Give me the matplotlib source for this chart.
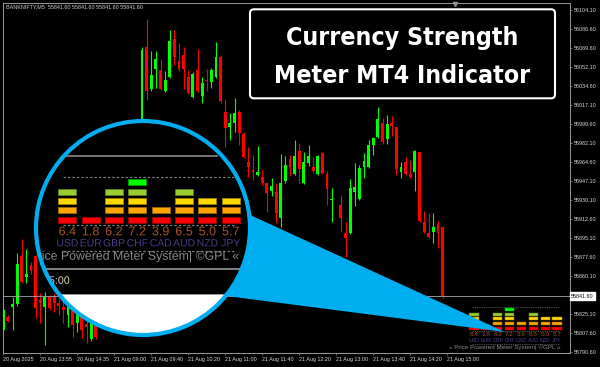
import numpy as np
import matplotlib.pyplot as plt
import matplotlib.colors as mcolors
from matplotlib import font_manager as fm
from matplotlib import patheffects as pe
from matplotlib.patches import Circle, Polygon, Rectangle, FancyBboxPatch

plt.rcParams['font.family'] = ['Liberation Sans', 'DejaVu Sans']

# ---------------- data ----------------
symbol_text = "BANKNIFTY,M5  55841.60 55841.60 55841.60 55841.60"
bid = 55841.60

# BANKNIFTY M5 candles (None = hidden under the magnifier / missing bar)
opens = [55810.5, 55822.5, 55831.6, 55834.4, 55878.4, 55859.2, 55870.2, 55878.4, 55838.1, 55831.6,
         55840.8, 55841.7, 55835.3, 55831.6, 55824.3, 55830.7, 55816.9, 55824.3, 55816.0, 55802.3,
         55818.8, None, None, None, None, None, None, None, None, None,
         56004.1, 56070.2, 56031.6, 56050.0, 56049.1, 56029.8, 56042.7, 56077.5, 56057.3, 56062.8,
         56042.7, 56024.3, 56049.1, 56025.2, 56039.9, 56038.1, 56042.7, 56061.0, 56010.5, 55996.8,
         56000.4, 56010.5, 55990.4, 55964.7, 55957.3, 55952.7, 55950.9, 55945.4, 55938.1, 55937.1,
         55913.3, 55947.2, 55967.4, 55953.7, 55974.8, 55945.4, 55963.7, 55960.1, 55953.7, 55972.9,
         55953.7, 55929.8, None, 55925.2, 55899.5, 55899.5, 55937.1, 55930.7, 55960.1, 55960.1,
         55980.3, 55987.6, 56000.4, 55985.8, 56000.4, 55996.8, 55955.5, 55964.7, 55953.7, 55955.5,
         55973.8, 55909.6, 55899.5, 55900.4, 55907.8, 55905.0]
highs = [55832.6, 55824.3, 55840.8, 55881.2, 55894.0, 55884.8, 55872.9, 55879.3, 55844.5, 55845.4,
         55842.6, 55844.5, 55839.9, 55838.1, 55836.2, 55835.3, 55828.9, 55828.9, 55819.7, 55824.3,
         55823.4, None, None, None, None, None, None, None, None, None,
         56070.2, 56095.9, 56066.5, 56066.5, 56059.2, 56048.2, 56085.8, 56085.8, 56073.8, 56070.2,
         56049.1, 56047.2, 56068.3, 56042.7, 56050.0, 56050.9, 56074.8, 56062.8, 56022.5, 56009.6,
         56023.4, 56012.4, 55992.2, 55978.4, 55971.1, 55979.4, 55957.3, 55946.3, 55950.0, 55945.4,
         55972.0, 55970.2, 55971.1, 55984.8, 55982.1, 55973.8, 55980.3, 55969.3, 55971.1, 55973.8,
         55956.4, 55940.8, None, 55934.4, 55909.6, 55949.1, 55963.8, 55961.9, 55972.9, 55984.8,
         55987.6, 56015.1, 56005.0, 56007.8, 56006.9, 55996.8, 55964.7, 55969.3, 55966.5, 55975.7,
         55973.8, 55919.7, 55917.9, 55917.9, 55910.5, 55906.0]
lows = [55808.7, 55817.9, 55810.5, 55832.6, 55853.6, 55853.6, 55861.9, 55821.5, 55816.9, 55796.8,
        55828.9, 55827.0, 55824.3, 55816.9, 55813.3, 55804.1, 55808.7, 55803.2, 55798.6, 55800.5,
        55802.3, None, None, None, None, None, None, None, None, None,
        56003.2, 56021.6, 56029.8, 56032.6, 56030.7, 56028.9, 56041.7, 56053.7, 56048.2, 56031.6,
        56027.1, 56023.4, 56028.9, 56018.8, 56029.8, 56032.6, 56041.7, 56018.8, 55978.4, 55984.8,
        55992.2, 55980.3, 55968.3, 55950.9, 55948.2, 55951.8, 55943.6, 55918.8, 55933.5, 55908.7,
        55905.0, 55945.4, 55951.8, 55952.7, 55945.4, 55944.5, 55961.0, 55954.6, 55952.7, 55953.7,
        55925.2, 55909.6, None, 55900.4, 55877.5, 55898.6, 55924.3, 55929.8, 55950.0, 55959.2,
        55971.1, 55986.7, 55981.2, 55981.2, 55988.5, 55952.7, 55950.0, 55952.7, 55950.0, 55938.1,
        55909.6, 55899.5, 55894.9, 55890.3, 55885.8, 55840.0]
closes = [55828.9, 55818.8, 55834.4, 55871.1, 55854.6, 55861.9, 55864.7, 55830.7, 55835.3, 55840.8,
          55830.7, 55835.3, 55832.6, 55828.9, 55832.6, 55815.1, 55826.1, 55810.5, 55813.3, 55816.9,
          55804.1, None, None, None, None, None, None, None, None, None,
          56067.4, 56029.8, 56044.5, 56059.2, 56031.6, 56039.9, 56075.7, 56061.0, 56050.0, 56050.0,
          56028.0, 56045.4, 56029.8, 56037.1, 56039.0, 56049.1, 56061.0, 56020.6, 55995.9, 56000.4,
          56009.6, 55991.3, 55969.3, 55960.1, 55955.5, 55955.5, 55945.4, 55936.2, 55942.7, 55917.9,
          55945.4, 55961.9, 55960.1, 55970.2, 55958.2, 55964.7, 55970.2, 55956.4, 55970.2, 55954.6,
          55939.9, 55930.7, None, 55913.3, 55894.9, 55940.8, 55941.7, 55959.2, 55965.6, 55980.3,
          55986.7, 56004.1, 55983.0, 55999.5, 55997.7, 55958.2, 55960.1, 55953.7, 55950.9, 55974.8,
          55910.5, 55900.4, 55895.9, 55905.0, 55899.5, 55841.6]

time_labels = ["20 Aug 2025", "20 Aug 13:55", "20 Aug 14:35", "21 Aug 09:00", "21 Aug 09:40",
               "21 Aug 10:20", "21 Aug 11:00", "21 Aug 11:40", "21 Aug 12:20", "21 Aug 13:00",
               "21 Aug 13:40", "21 Aug 14:20", "21 Aug 15:00"]
price_labels = [56104.10, 56086.60, 56069.60, 56052.10, 56034.60, 56017.10, 55999.60, 55982.10,
                55964.60, 55947.10, 55930.10, 55912.60, 55895.10, 55877.60, 55860.10, 55825.10,
                55807.60, 55790.60]

# currency strength meter
currencies = ["USD", "EUR", "GBP", "CHF", "CAD", "AUD", "NZD", "JPY"]
strength = [6.4, 1.8, 6.2, 7.2, 3.9, 6.5, 5.0, 5.7]
level_limits = [0, 3, 4.5, 6, 7]
level_colors = ['#FF0000', '#FFA500', '#FFD700', '#9ACD32', '#00FF00']
footer = "\u00bb Price Powered Meter System| \u00a9GPL \u00ab"

title_lines = ["Currency Strength", "Meter MT4 Indicator"]

# ---------------- chart ----------------
W, H = 600, 367
fig = plt.figure(figsize=(6, 3.67), dpi=100, facecolor='black')
ax = fig.add_axes([2.7 / W, 1 - 353.3 / H, (570 - 2.7) / W, (353.3 - 2.7) / H])
ax.set_facecolor('black')

o = np.array(opens, dtype=float)
hi = np.array(highs, dtype=float)
lo = np.array(lows, dtype=float)
c = np.array(closes, dtype=float)
idx = np.arange(len(o))
ok = ~np.isnan(o)
cols = np.where(c >= o, '#00FF00', '#FF0000')

ax.vlines(idx[ok], lo[ok], hi[ok], colors=cols[ok], lw=0.8)
body = np.maximum(np.abs(c - o), 0.9)
ax.bar(idx[ok], body[ok], bottom=np.minimum(o, c)[ok], width=0.62, color=cols[ok], linewidth=0)

ax.axhline(bid, color='#A8A8A8', lw=0.6)

ax.set_xlim(-0.13, 122.53)
ax.set_ylim(55789.1, 56110.8)

ax.set_xticks(np.arange(len(time_labels)) * 8)
ax.set_xticklabels(time_labels, ha='left')
ax.yaxis.tick_right()
ax.set_yticks(price_labels)
ax.set_yticklabels([f'{p:.2f}' for p in price_labels])
ax.tick_params(color='#909090', labelcolor='#D8D8D8', labelsize=3.9, length=1.6, width=0.5, pad=1)
for s in ax.spines.values():
    s.set_color('#9A9A9A')
    s.set_linewidth(0.7)

ax.text(1.002, bid, f'{bid:.2f}', transform=ax.get_yaxis_transform(), ha='left', va='center',
        fontsize=3.9, color='black',
        bbox=dict(boxstyle='square,pad=0.3', fc='white', ec='white'))

# ---------------- overlay in pixel coordinates ----------------
ov = fig.add_axes([0, 0, 1, 1], zorder=5)
ov.set_xlim(0, W)
ov.set_ylim(H, 0)
ov.axis('off')
ov.patch.set_alpha(0)

ov.text(6, 6.7, symbol_text, va='center', fontsize=3.9, color='#D0D0D0')
ov.plot(455, 4, marker='v', ms=3, color='#909090', zorder=9)

bid_py = H - ax.transData.transform((0, bid))[1]
bar96_px = ax.transData.transform((96, bid))[0]


def meter(scale, ox, oy, z, clip=None, extras=False):
    def P(sx, sy):
        return ox + (sx - 474) * scale, oy + (sy - 328.3) * scale

    # text has to go through path effects to honour a circular clip path
    tkw = {'path_effects': [pe.Normal()]} if clip is not None else {}
    arts = []
    for sy in (306.7, 331.0, 344.0):
        (x1, y1), (x2, _) = P(471.8, sy), P(559.5, sy)
        arts += ov.plot([x1, x2], [y1, y1], color='#7A7A7A', lw=0.45 * scale,
                        ls=(0, (2, 1.6)))
    for i, (cur, val) in enumerate(zip(currencies, strength)):
        cx = 474 + 11.85 * i
        n = sum(val > t for t in level_limits)
        for k in range(n):
            x, y = P(cx - 4.55, 328.3 - 4.75 * k - 1.5)
            ec = np.array(mcolors.to_rgb(level_colors[k])) * 0.6
            r = Rectangle((x, y), 9.1 * scale, 3.05 * scale, fc=level_colors[k], ec=ec,
                          lw=0.35 * scale)
            ov.add_patch(r)
            arts.append(r)
        tx, ty = P(cx, 334.7)
        arts.append(ov.text(tx, ty, f'{val:.1f}', ha='center', va='center',
                            fontsize=4.6 * scale, color='#A0522D', **tkw))
        tx, ty = P(cx, 340.3)
        arts.append(ov.text(tx, ty, cur, ha='center', va='center',
                            fontsize=3.8 * scale, color='#483D8B', **tkw))
    tx, ty = P(560.5, 347.1)
    arts.append(ov.text(tx, ty, footer, ha='right', va='center', fontsize=4.5 * scale,
                        color='#8A8A8A', **tkw))
    if extras:
        (x1, y1), (x2, _) = P(0, bid_py), P(550, bid_py)
        arts += ov.plot([x1, x2], [y1, y1], color='#8A8A8A', lw=0.6 * scale)
        (x1, y1), (x2, _) = P(0, 353.3), P(W, 353.3)
        arts += ov.plot([x1, x2], [y1, y1], color='#9A9A9A', lw=0.6 * scale)
        tx, ty = P(bar96_px - 4, 359.3)
        arts.append(ov.text(tx, ty, time_labels[-1], ha='left', va='center',
                            fontsize=3.9 * scale, color='#E0D6C0', **tkw))
        x, y = P(0, 366.0)
        wr = Rectangle((x, y), 3000, 300, fc='white', ec='#9A9A9A', lw=0.6)
        ov.add_patch(wr)
        arts.append(wr)
    for a in arts:
        a.set_zorder(z)
        if clip is not None:
            a.set_clip_on(True)
            a.set_clip_path(clip)


# small meter in the chart corner
meter(1.0, 474, 328.3, z=2)

# magnifier: wedge + circle + 2x view
ov.add_patch(Polygon([(200, 192), (505, 332), (180, 290), (143, 228)],
                     closed=True, fc='#00AEEF', ec='none', zorder=3))
lens = Circle((143, 228), 107, fc='black', ec='none', zorder=4)
ov.add_patch(lens)
meter(1.97, 67.3, 219.7, z=5, clip=lens, extras=True)
ov.add_patch(Circle((143, 228), 107, fill=False, ec='#00AEEF', lw=3, zorder=7))

# title box
ov.add_patch(FancyBboxPatch((250, 9.3), 305, 89, boxstyle='round,pad=0,rounding_size=4',
                            fc='black', ec='white', lw=1.5, zorder=8))

# pick a narrow bold face if one is installed
title_font = None
for fam, st in [('Liberation Sans Narrow', 'normal'), ('DejaVu Sans', 'condensed'),
                ('Roboto Condensed', 'normal'), ('Open Sans Condensed', 'normal'),
                ('Open Sans', 'condensed'), ('Noto Sans', 'condensed')]:
    fp = fm.FontProperties(family=fam, weight='bold', stretch=st)
    try:
        path = fm.findfont(fp, fallback_to_default=False)
    except ValueError:
        continue
    if any(k in path.lower() for k in ('narrow', 'condensed', 'cond')):
        title_font = fp
        break
if title_font is None:
    title_font = fm.FontProperties(family='Roboto', weight='bold')

titles = []
for line, base in zip(title_lines, (45.0, 83.3)):
    titles.append(ov.text(402.5, base, line, ha='center', va='baseline',
                          fontproperties=title_font, color='white', zorder=9))
renderer = fig.canvas.get_renderer()
for t in titles:
    t.set_fontsize(23)
w2 = titles[1].get_window_extent(renderer).width
size = min(25, 23 * 257 / w2)
for t in titles:
    t.set_fontsize(size)

fig.savefig('out.png', dpi=100, facecolor='black')
